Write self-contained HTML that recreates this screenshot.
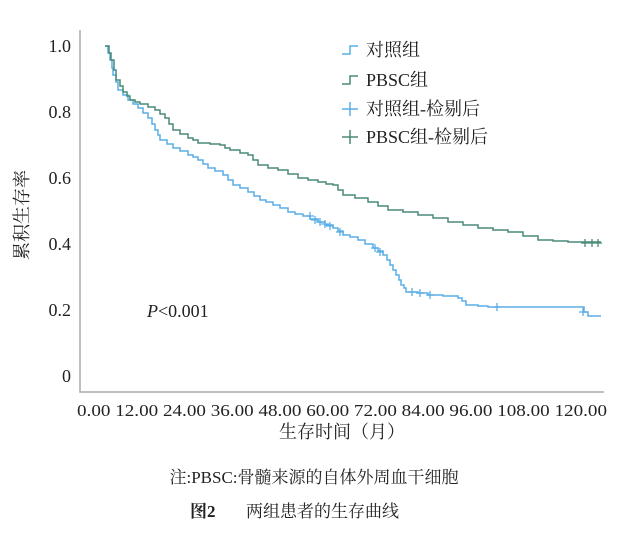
<!DOCTYPE html>
<html><head><meta charset="utf-8"><style>
body{margin:0;background:#fff;}
svg text{font-family:"Liberation Serif","Noto Serif CJK SC",serif;fill:#222;}
</style></head><body>
<svg width="628" height="536" viewBox="0 0 628 536" xmlns="http://www.w3.org/2000/svg">
<g stroke="#aaa" stroke-width="1.5" fill="none"><path d="M80 30 V392 H604"/></g>
<g font-size="18" text-anchor="end">
<text x="71" y="52">1.0</text><text x="71" y="118">0.8</text><text x="71" y="184">0.6</text>
<text x="71" y="250">0.4</text><text x="71" y="316">0.2</text><text x="71" y="382">0</text>
</g>
<text font-size="17" x="342" y="416" text-anchor="middle" textLength="530" lengthAdjust="spacingAndGlyphs">0.00 12.00 24.00 36.00 48.00 60.00 72.00 84.00 96.00 108.00 120.00</text>
<text font-size="18" x="342" y="438" text-anchor="middle">生存时间（月）</text>
<text font-size="18" transform="translate(28,215) rotate(-90)" text-anchor="middle">累积生存率</text>
<text font-size="18" x="147" y="317"><tspan font-style="italic">P</tspan>&lt;0.001</text>
<g fill="none" stroke-width="1.5">
<path stroke="#5aaee6" d="M105 46 H108 V53 H110 V60 H112 V68 H113 V75 H116 V82 H118 V90 H123 V95 H128 V100 H133 V104 H138 V108 H143 V113 H148 V118 H152 V124 H155 V130 H158 V135 H160 V140 H167 V144 H173 V148 H180 V151 H188 V155 H193 V157 H198 V160 H203 V164 H208 V168 H215 V171 H223 V175 H228 V180 H233 V185 H240 V188 H248 V192 H254 V196 H260 V200 H266 V202 H273 V205 H280 V208 H288 V212 H295 V214 H303 V216 H310 V219 H318 V222 H325 V225 H333 V228 H338 V231 H343 V235 H350 V237 H358 V240 H365 V244 H373 V248 H378 V251 H383 V255 H387 V260 H390 V265 H393 V270 H396 V275 H399 V280 H401 V285 H404 V288 H406 V292 H418 V293 H428 V295 H443 V296 H458 V298 H462 V301 H466 V305 H478 V306 H488 V307 H584 V312 H588 V316 H601"/>
<path stroke="#4a8a78" d="M105 46 H109 V53 H111 V60 H114 V70 H116 V80 H120 V86 H123 V92 H127 V96 H130 V100 H135 V102 H140 V104 H148 V107 H155 V110 H160 V114 H165 V118 H169 V124 H173 V130 H180 V134 H188 V138 H193 V140 H198 V143 H210 V144 H220 V145 H225 V148 H230 V150 H240 V153 H248 V155 H253 V160 H258 V165 H268 V168 H278 V170 H288 V174 H298 V178 H308 V180 H318 V182 H326 V184 H333 V185 H338 V190 H343 V195 H355 V198 H368 V202 H378 V206 H388 V210 H403 V212 H418 V215 H433 V218 H448 V222 H463 V225 H478 V228 H493 V230 H508 V232 H523 V236 H538 V240 H553 V241 H568 V242 H601"/>
</g>
<g stroke="#5aaee6" stroke-width="1.3">
<path d="M310 212v8M306 216h8M315 216v8M311 220h8M320 218v8M316 222h8M325 220v8M321 224h8M330 222v8M326 226h8M340 228v8M336 232h8M375 244v8M371 248h8M380 248v8M376 252h8M412 288v8M408 292h8M420 289v8M416 293h8M430 291v8M426 295h8M497 303v8M493 307h8M583 308v8M579 312h8"/>
</g>
<g stroke="#4a8a78" stroke-width="1.3">
<path d="M585 239v8M581 243h8M592 239v8M588 243h8M598 239v8M594 243h8"/>
</g>
<g stroke-width="1.5" fill="none">
<path stroke="#5aaee6" d="M342 54 H350 V46 H358"/>
<path stroke="#4a8a78" d="M342 84 H350 V76 H358"/>
<path stroke="#5aaee6" d="M342 109 H358 M350 102 V116"/>
<path stroke="#4a8a78" d="M342 137 H358 M350 130 V144"/>
</g>
<g font-size="18">
<text x="366" y="56">对照组</text><text x="366" y="86">PBSC组</text>
<text x="366" y="115">对照组-检剔后</text><text x="366" y="143">PBSC组-检剔后</text>
</g>
<text font-size="17" x="314" y="483" text-anchor="middle">注:PBSC:骨髓来源的自体外周血干细胞</text>
<text font-size="17" x="190" y="517" font-weight="bold" font-family="Liberation Sans,Noto Sans CJK SC,sans-serif">图2</text>
<text font-size="17" x="246" y="517">两组患者的生存曲线</text>
</svg>
</body></html>
